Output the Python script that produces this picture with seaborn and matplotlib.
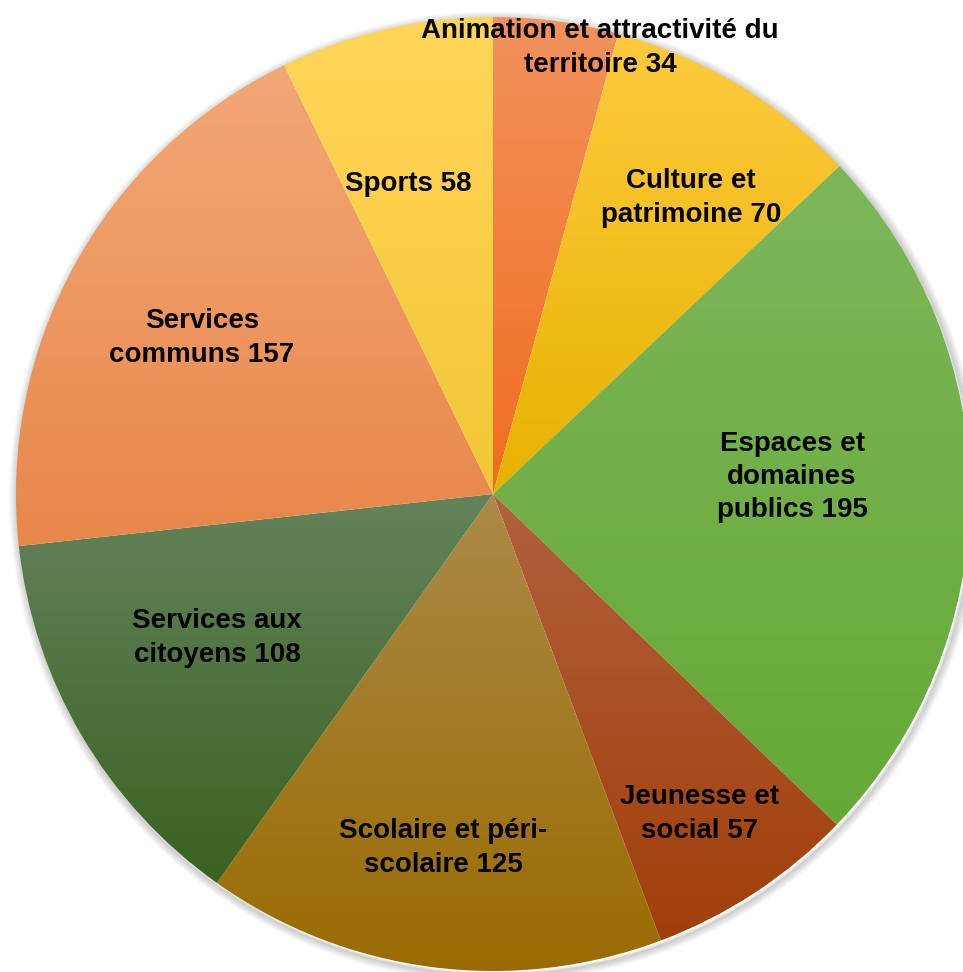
import numpy as np
import matplotlib
matplotlib.use("Agg")
import matplotlib.pyplot as plt
from matplotlib.patches import Circle
import seaborn as sns

# ---- data ----
categories = [
    "Animation et attractivité du\nterritoire",
    "Culture et\npatrimoine",
    "Espaces et\ndomaines\npublics",
    "Jeunesse et\nsocial",
    "Scolaire et péri-\nscolaire",
    "Services aux\ncitoyens",
    "Services\ncommuns",
    "Sports",
]
values = [34, 70, 195, 57, 125, 108, 157, 58]

# gradient colours: (top, bottom)
top_colors = ["#F2925C", "#FFCB3E", "#7DB75A", "#B2603E", "#AA8A48", "#63835B", "#F2A876", "#FFD659"]
bottom_colors = ["#F06E1E", "#E6B200", "#64A935", "#A03F08", "#9A6B00", "#3A6220", "#E8874A", "#F3C736"]

# label positions in pixel coordinates (x, y from top)
label_pos = [(600, 48), (691, 198), (792, 477), (700, 814), (443, 848), (217, 638), (202, 338), (408, 184)]

W, H = 963, 972
CX, CY, R = 493, 494, 477

sns.set_theme(style="white")
plt.rcParams["font.family"] = ["Liberation Sans", "DejaVu Sans"]

fig = plt.figure(figsize=(W / 100, H / 100), dpi=100)
ax = fig.add_axes([0, 0, 1, 1])

center = (CX, H - CY)

# soft shadow
for i, a in enumerate(np.linspace(0.12, 0.015, 8)):
    ax.add_patch(Circle((center[0] + 2, center[1] - 3), R + i * 1.1,
                        facecolor="none", edgecolor=(0.3, 0.3, 0.3, a), linewidth=2.2, zorder=0))

wedges, _ = ax.pie(values, center=center, radius=R, startangle=90,
                   counterclock=False, wedgeprops=dict(linewidth=0))

for w, tc, bc in zip(wedges, top_colors, bottom_colors):
    verts = w.get_path().vertices
    xmin, ymin = verts.min(axis=0)
    xmax, ymax = verts.max(axis=0)
    pal = sns.blend_palette([bc, tc], n_colors=256)
    img = np.array(pal).reshape(256, 1, 3)
    w.set_facecolor("none")
    im = ax.imshow(img, extent=[xmin, xmax, ymin, ymax], origin="lower",
                   aspect="auto", interpolation="bilinear", zorder=1)
    im.set_clip_path(w)

for cat, v, (lx, ly) in zip(categories, values, label_pos):
    ax.text(lx, H - ly, f"{cat} {v}", ha="center", va="center",
            fontsize=20, fontweight="bold", color="black", linespacing=1.36, zorder=5)

ax.set_xlim(0, W)
ax.set_ylim(0, H)
ax.set_aspect("auto")
ax.axis("off")

fig.savefig("out.png", dpi=100, facecolor="white")
